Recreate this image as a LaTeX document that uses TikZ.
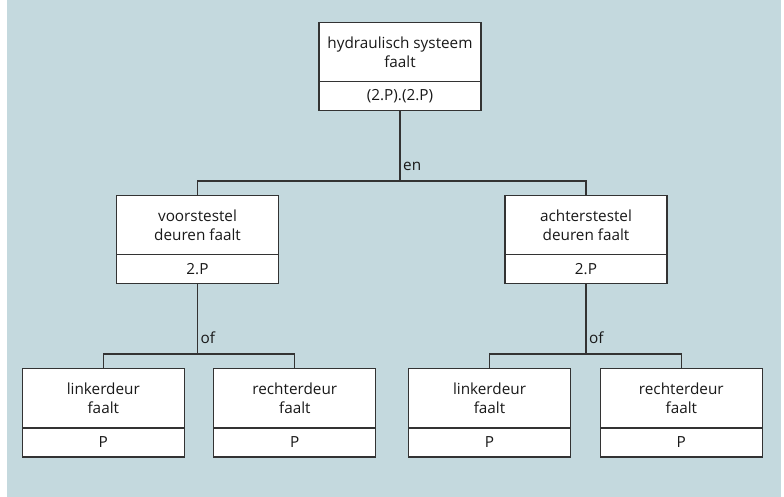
\documentclass[tikz,border=0pt]{standalone}
\usepackage{fontspec}
\setmainfont{Open Sans}
\definecolor{bg}{HTML}{C4D9DE}
\definecolor{ln}{HTML}{333333}
\begin{document}
\begin{tikzpicture}[x=1pt,y=-1pt,
  every node/.style={font=\fontsize{15.3}{19.5}\selectfont, text=black!90},
  upper/.style={draw=ln, line width=1.3pt, fill=white, minimum width=162pt, minimum height=59pt, align=center, inner sep=0pt},
  lower/.style={draw=ln, line width=1.3pt, fill=white, minimum width=162pt, minimum height=29pt, align=center, inner sep=0pt},
  conn/.style={draw=ln, line width=1.3pt},
  lbl/.style={anchor=base west, inner sep=0pt}]
\useasboundingbox (0,0) rectangle (784,497);
\fill[bg] (7,0) rectangle (781,497);
% top
\node[upper] (top) at (400,52.2) {hydraulisch systeem\\faalt};
\node[lower] (topP) at (400,96.2) {(2.P).(2.P)};
% middle
\node[upper] (ml) at (197.5,225.2) {voorstestel\\deuren faalt};
\node[lower] (mlP) at (197.5,269.3) {2.P};
\node[upper] (mr) at (586,225.2) {achterstestel\\deuren faalt};
\node[lower] (mrP) at (586,269.3) {2.P};
% bottom
\node[upper] (b1) at (103.3,398.3) {linkerdeur\\faalt};
\node[lower] (b1P) at (103.3,442.5) {P};
\node[upper] (b2) at (294.8,398.3) {rechterdeur\\faalt};
\node[lower] (b2P) at (294.8,442.5) {P};
\node[upper] (b3) at (489.5,398.3) {linkerdeur\\faalt};
\node[lower] (b3P) at (489.5,442.5) {P};
\node[upper] (b4) at (681.3,398.3) {rechterdeur\\faalt};
\node[lower] (b4P) at (681.3,442.5) {P};
% junctions
\coordinate (j1) at (400,181);
\coordinate (j2) at (197.5,354);
\coordinate (j3) at (586,354);
\draw[conn] (topP.south) -- (j1);
\draw[conn] (ml.north) |- (j1) -| (mr.north);
\draw[conn] (mlP.south) -- (j2);
\draw[conn] (b1.north) |- (j2) -| (b2.north);
\draw[conn] (mrP.south) -- (j3);
\draw[conn] (b3.north) |- (j3) -| (b4.north);
% labels
\node[lbl] (en) at ([xshift=3pt,yshift=10.5pt]j1) {en};
\node[lbl] (of1) at ([xshift=3pt,yshift=10.5pt]j2) {of};
\node[lbl] (of2) at ([xshift=3pt,yshift=10.5pt]j3) {of};
\end{tikzpicture}
\end{document}
